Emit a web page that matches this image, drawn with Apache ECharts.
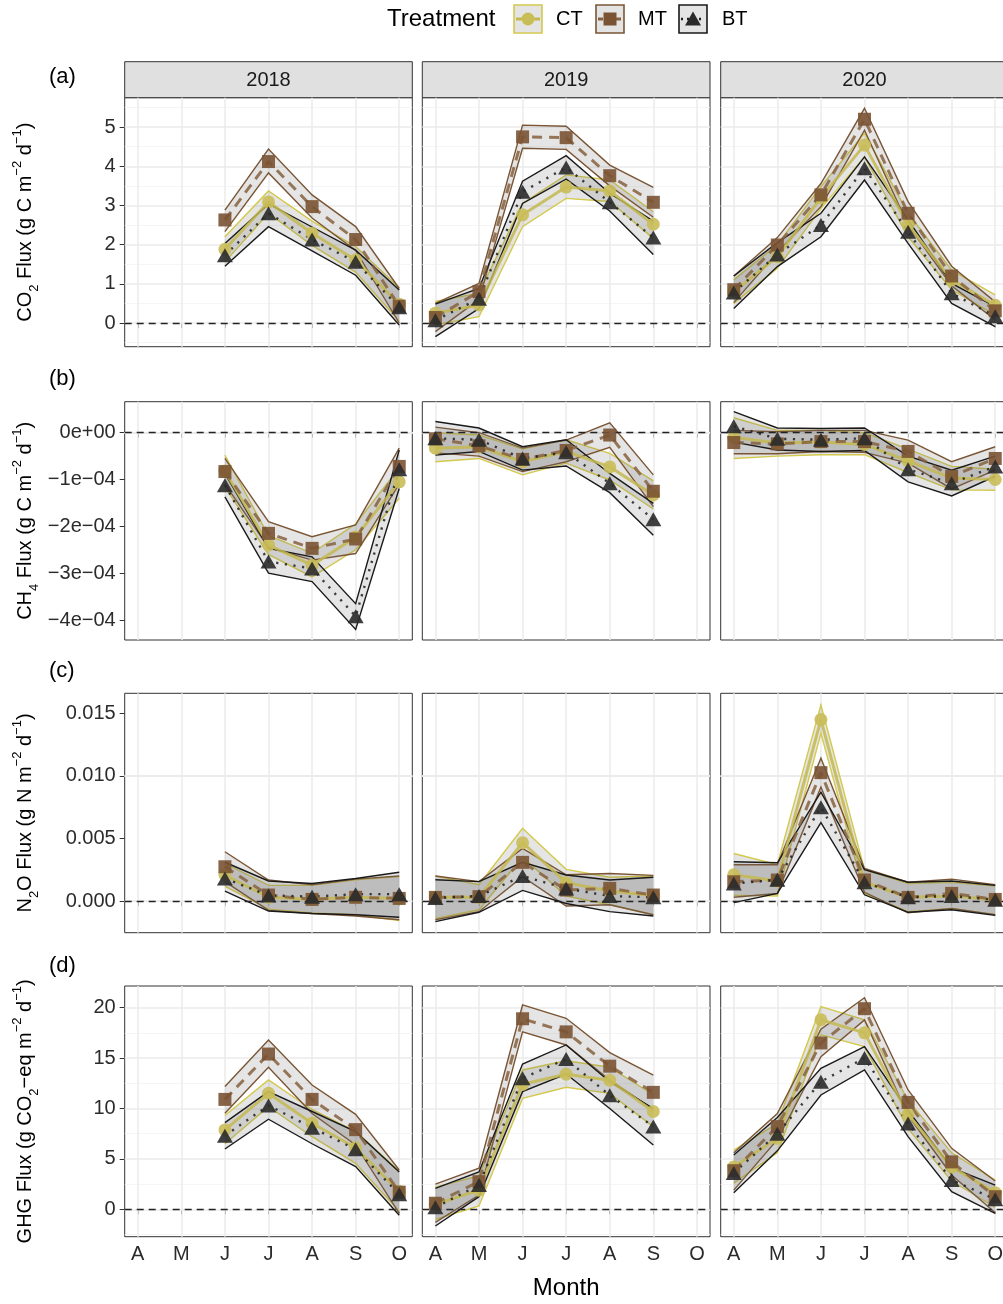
<!DOCTYPE html>
<html><head><meta charset="utf-8">
<script src="https://cdn.jsdelivr.net/npm/echarts@6/dist/echarts.min.js"></script>
<style>html,body{margin:0;padding:0;background:#fff}#c{width:1003px;height:1304px}</style>
</head><body><div id="c"></div>
<script>
// ---------- categories / ticks ----------
const months = ['A','M','J','J','A','S','O'];
const monthNums = [1,2,3,4,5,6,7];
const years = ['2018','2019','2020'];
const treatments = ['CT','MT','BT'];
const panelTags = ['(a)','(b)','(c)','(d)'];

const co2_ticks = [0,1,2,3,4,5];
const co2_tick_labels = ['0','1','2','3','4','5'];
const co2_minor = [-0.5,0.5,1.5,2.5,3.5,4.5,5.5];
const ch4_ticks = [-4e-4,-3e-4,-2e-4,-1e-4,0];
const ch4_tick_labels = ['\u22124e\u221204','\u22123e\u221204','\u22122e\u221204','\u22121e\u221204','0e+00'];
const ch4_minor = [-3.5e-4,-2.5e-4,-1.5e-4,-0.5e-4,0.5e-4];
const n2o_ticks = [0,0.005,0.010,0.015];
const n2o_tick_labels = ['0.000','0.005','0.010','0.015'];
const n2o_minor = [-0.0025,0.0025,0.0075,0.0125];
const ghg_ticks = [0,5,10,15,20];
const ghg_tick_labels = ['0','5','10','15','20'];
const ghg_minor = [-2.5,2.5,7.5,12.5,17.5];

// ---------- CO2 (rows = 2018, 2019, 2020; cols = A..O) ----------
const co2_CT_mean = [[null,null,1.88,3.09,2.29,1.61,0.48],[0.25,0.46,2.76,3.47,3.37,2.52,null],[0.80,1.69,3.20,4.54,2.50,1.10,0.45]];
const co2_CT_lo   = [[null,null,1.56,2.80,1.98,1.30,0.05],[-0.05,0.16,2.46,3.18,3.10,2.16,null],[0.50,1.40,2.92,4.24,2.20,0.85,0.20]];
const co2_CT_hi   = [[null,null,2.20,3.37,2.60,1.95,0.90],[0.55,0.76,3.05,3.78,3.65,2.84,null],[1.10,2.00,3.48,4.84,2.80,1.35,0.72]];
const co2_MT_mean = [[null,null,2.63,4.12,2.97,2.13,0.43],[0.14,0.80,4.75,4.73,3.76,3.08,null],[0.85,1.99,3.27,5.20,2.80,1.20,0.31]];
const co2_MT_lo   = [[null,null,2.33,3.83,2.68,1.85,0.00],[-0.22,0.60,4.46,4.43,3.50,2.70,null],[0.52,1.80,2.97,4.92,2.50,0.95,0.08]];
const co2_MT_hi   = [[null,null,2.88,4.44,3.27,2.46,0.88],[0.50,1.01,5.05,5.02,4.03,3.46,null],[1.20,2.18,3.56,5.48,3.10,1.45,0.54]];
const co2_BT_mean = [[null,null,1.73,2.80,2.13,1.56,0.40],[0.07,0.62,3.35,3.97,3.08,2.18,null],[0.78,1.75,2.50,3.95,2.33,0.76,0.17]];
const co2_BT_lo   = [[null,null,1.45,2.46,1.84,1.22,-0.05],[-0.35,0.37,3.05,3.67,2.86,1.75,null],[0.37,1.44,2.20,3.65,2.03,0.50,-0.09]];
const co2_BT_hi   = [[null,null,2.03,3.04,2.45,1.86,0.84],[0.48,0.88,3.62,4.27,3.31,2.60,null],[1.20,2.05,2.80,4.24,2.63,1.01,0.42]];

// ---------- CH4 ----------
const ch4_CT_mean = [[null,null,-0.82e-4,-2.40e-4,-2.83e-4,-2.23e-4,-1.05e-4],[-0.33e-4,-0.30e-4,-0.62e-4,-0.40e-4,-0.73e-4,-1.33e-4,null],[-0.10e-4,-0.22e-4,-0.20e-4,-0.25e-4,-0.60e-4,-0.97e-4,-1.00e-4]];
const ch4_CT_lo   = [[null,null,-1.15e-4,-2.60e-4,-3.08e-4,-2.50e-4,-1.40e-4],[-0.62e-4,-0.55e-4,-0.90e-4,-0.65e-4,-1.01e-4,-1.63e-4,null],[-0.55e-4,-0.50e-4,-0.47e-4,-0.47e-4,-0.85e-4,-1.22e-4,-1.23e-4]];
const ch4_CT_hi   = [[null,null,-0.48e-4,-2.20e-4,-2.57e-4,-1.95e-4,-0.75e-4],[0.00e-4,-0.05e-4,-0.35e-4,-0.15e-4,-0.44e-4,-1.03e-4,null],[0.32e-4,0.05e-4,0.05e-4,0.00e-4,-0.35e-4,-0.72e-4,-0.78e-4]];
const ch4_MT_mean = [[null,null,-0.83e-4,-2.15e-4,-2.47e-4,-2.27e-4,-0.72e-4],[-0.13e-4,-0.28e-4,-0.57e-4,-0.38e-4,-0.05e-4,-1.25e-4,null],[-0.21e-4,-0.24e-4,-0.19e-4,-0.19e-4,-0.40e-4,-0.93e-4,-0.55e-4]];
const ch4_MT_lo   = [[null,null,-1.10e-4,-2.45e-4,-2.72e-4,-2.58e-4,-1.10e-4],[-0.43e-4,-0.50e-4,-0.83e-4,-0.62e-4,-0.31e-4,-1.58e-4,null],[-0.45e-4,-0.45e-4,-0.40e-4,-0.42e-4,-0.65e-4,-1.20e-4,-0.80e-4]];
const ch4_MT_hi   = [[null,null,-0.55e-4,-1.90e-4,-2.22e-4,-1.97e-4,-0.33e-4],[0.12e-4,0.00e-4,-0.33e-4,-0.16e-4,0.21e-4,-0.90e-4,null],[0.05e-4,0.02e-4,0.05e-4,0.05e-4,-0.16e-4,-0.62e-4,-0.30e-4]];
const ch4_BT_mean = [[null,null,-1.12e-4,-2.75e-4,-2.90e-4,-3.92e-4,-0.78e-4],[-0.12e-4,-0.15e-4,-0.55e-4,-0.42e-4,-1.08e-4,-1.85e-4,null],[0.14e-4,-0.13e-4,-0.15e-4,-0.12e-4,-0.78e-4,-1.08e-4,-0.72e-4]];
const ch4_BT_lo   = [[null,null,-1.37e-4,-3.00e-4,-3.18e-4,-4.20e-4,-1.19e-4],[-0.48e-4,-0.40e-4,-0.80e-4,-0.71e-4,-1.28e-4,-2.19e-4,null],[-0.20e-4,-0.37e-4,-0.40e-4,-0.38e-4,-1.05e-4,-1.35e-4,-0.93e-4]];
const ch4_BT_hi   = [[null,null,-0.87e-4,-2.47e-4,-2.65e-4,-3.65e-4,-0.37e-4],[0.24e-4,0.10e-4,-0.30e-4,-0.15e-4,-0.87e-4,-1.51e-4,null],[0.45e-4,0.10e-4,0.09e-4,0.10e-4,-0.50e-4,-0.80e-4,-0.50e-4]];

// ---------- N2O ----------
const n2o_CT_mean = [[null,null,2.08e-3,0.30e-3,0.15e-3,0.30e-3,0.20e-3],[0.30e-3,0.30e-3,4.66e-3,1.47e-3,0.80e-3,0.45e-3,null],[2.10e-3,1.60e-3,14.50e-3,1.50e-3,0.30e-3,0.40e-3,0.10e-3]];
const n2o_CT_lo   = [[null,null,1.20e-3,-0.65e-3,-0.95e-3,-1.10e-3,-1.55e-3],[-1.40e-3,-0.70e-3,3.50e-3,0.40e-3,-0.30e-3,-1.10e-3,null],[0.45e-3,0.40e-3,13.40e-3,0.60e-3,-0.85e-3,-0.60e-3,-1.10e-3]];
const n2o_CT_hi   = [[null,null,3.00e-3,1.25e-3,1.25e-3,1.70e-3,1.95e-3],[2.00e-3,1.30e-3,5.81e-3,2.53e-3,1.90e-3,2.00e-3,null],[3.80e-3,2.90e-3,15.67e-3,2.50e-3,1.40e-3,1.50e-3,1.20e-3]];
const n2o_MT_mean = [[null,null,2.74e-3,0.48e-3,0.13e-3,0.30e-3,0.21e-3],[0.29e-3,0.35e-3,3.09e-3,0.88e-3,1.01e-3,0.48e-3,null],[1.54e-3,1.68e-3,10.26e-3,1.68e-3,0.29e-3,0.61e-3,0.13e-3]];
const n2o_MT_lo   = [[null,null,1.55e-3,-0.75e-3,-1.00e-3,-1.20e-3,-1.50e-3],[-1.50e-3,-0.85e-3,1.95e-3,-0.40e-3,-0.30e-3,-1.10e-3,null],[0.30e-3,0.60e-3,9.10e-3,0.70e-3,-0.93e-3,-0.59e-3,-1.10e-3]];
const n2o_MT_hi   = [[null,null,3.94e-3,1.68e-3,1.30e-3,1.75e-3,2.00e-3],[2.00e-3,1.55e-3,4.21e-3,2.10e-3,2.20e-3,2.05e-3,null],[2.90e-3,2.90e-3,11.41e-3,2.60e-3,1.50e-3,1.75e-3,1.30e-3]];
const n2o_BT_mean = [[null,null,1.80e-3,0.45e-3,0.35e-3,0.55e-3,0.55e-3],[0.25e-3,0.40e-3,2.00e-3,1.00e-3,0.40e-3,0.30e-3,null],[1.40e-3,1.70e-3,7.50e-3,1.50e-3,0.30e-3,0.40e-3,0.10e-3]];
const n2o_BT_lo   = [[null,null,0.80e-3,-0.80e-3,-1.00e-3,-1.10e-3,-1.30e-3],[-1.65e-3,-0.90e-3,0.85e-3,-0.20e-3,-0.85e-3,-1.20e-3,null],[-0.13e-3,0.61e-3,6.26e-3,0.50e-3,-0.90e-3,-0.70e-3,-1.15e-3]];
const n2o_BT_hi   = [[null,null,3.10e-3,1.60e-3,1.40e-3,1.80e-3,2.30e-3],[1.70e-3,1.55e-3,3.10e-3,2.08e-3,1.68e-3,1.90e-3,null],[3.14e-3,3.06e-3,8.70e-3,2.50e-3,1.50e-3,1.60e-3,1.25e-3]];

// ---------- GHG ----------
const ghg_CT_mean = [[null,null,7.87,11.50,8.53,6.10,1.76],[0.50,1.90,12.40,13.40,12.80,9.70,null],[4.20,7.04,18.80,17.50,9.40,4.20,1.65]];
const ghg_CT_lo   = [[null,null,6.50,10.18,7.20,4.56,-0.20],[-1.00,0.33,11.00,12.10,11.50,8.20,null],[2.60,5.60,17.30,16.13,8.00,2.80,0.20]];
const ghg_CT_hi   = [[null,null,9.30,12.83,9.90,7.70,3.80],[2.20,3.30,13.82,14.74,14.09,11.34,null],[5.88,8.50,20.10,18.80,10.80,5.60,2.90]];
const ghg_MT_mean = [[null,null,10.90,15.40,10.90,7.90,1.70],[0.60,2.74,18.90,17.60,14.20,11.60,null],[3.83,8.20,16.50,19.90,10.60,4.70,1.25]];
const ghg_MT_lo   = [[null,null,9.52,14.09,9.50,6.38,-0.40],[-1.30,1.40,17.60,16.30,12.83,9.90,null],[1.90,6.90,15.14,18.78,9.30,3.40,-0.35]];
const ghg_MT_hi   = [[null,null,12.17,16.80,12.33,9.42,3.90],[2.50,4.07,20.27,18.95,15.54,13.30,null],[5.60,9.50,17.86,20.99,11.84,6.05,2.80]];
const ghg_BT_mean = [[null,null,7.30,10.30,8.10,5.95,1.50],[0.20,2.40,13.00,14.90,11.30,8.20,null],[3.60,7.50,12.66,15.00,8.50,2.90,1.00]];
const ghg_BT_lo   = [[null,null,5.98,8.93,6.50,4.23,-0.60],[-1.66,1.25,11.67,13.42,10.00,6.38,null],[1.65,5.80,11.34,13.82,7.20,1.75,-0.40]];
const ghg_BT_hi   = [[null,null,8.60,11.67,9.70,7.70,3.70],[2.08,3.70,14.41,16.30,12.66,10.00,null],[5.39,9.10,13.99,16.13,9.80,4.10,2.40]];

// ---------- layout / style ----------
const FONT = '"Liberation Sans", Arial, Helvetica, sans-serif';
const colLeft = [124.7, 422.3, 720.7];
const colWidth = [287.6, 287.7, 287.6];
const rowTop = [97.7, 401.7, 693.3, 986];
const rowHeight = [249, 238.3, 239.4, 250.7];
const tagY = [77, 379, 671, 966];

const lineColors = ['#c4b850', '#87623f', '#1e1e1e'];
const ribbonColors = ['#d3c94c', '#7a5535', '#1a1a1a'];
const pointColors = ['#c9bd58', '#7a5333', '#2a2a2a'];
const lineTypes = ['solid', [10, 7], [2.2, 6.5]];
const lineWidths = [3, 3, 2.4];
const symbols = ['circle', 'rect', 'triangle'];
const symbolSizes = [13, 13, [16, 14]];
const RIBBON_FILL = 'rgba(110,110,110,0.18)';

const rich = {
  n: {fontSize: 20, fontFamily: FONT, color: '#000', lineHeight: 30},
  sub: {fontSize: 13, fontFamily: FONT, color: '#000', lineHeight: 16, verticalAlign: 'bottom'},
  sup: {fontSize: 13, fontFamily: FONT, color: '#000', lineHeight: 14, verticalAlign: 'top'}
};

const vars = [
  {mean:[co2_CT_mean,co2_MT_mean,co2_BT_mean], lo:[co2_CT_lo,co2_MT_lo,co2_BT_lo], hi:[co2_CT_hi,co2_MT_hi,co2_BT_hi],
   min:-0.605, max:5.75, ticks:co2_ticks, labels:co2_tick_labels, minor:co2_minor,
   title:'{n|CO}{sub|2}{n| Flux (g C m}{sup|\u22122}{n| d}{sup|\u22121}{n|)}'},
  {mean:[ch4_CT_mean,ch4_MT_mean,ch4_BT_mean], lo:[ch4_CT_lo,ch4_MT_lo,ch4_BT_lo], hi:[ch4_CT_hi,ch4_MT_hi,ch4_BT_hi],
   min:-4.427e-4, max:0.662e-4, ticks:ch4_ticks, labels:ch4_tick_labels, minor:ch4_minor,
   title:'{n|CH}{sub|4}{n| Flux (g C m}{sup|\u22122}{n| d}{sup|\u22121}{n|)}'},
  {mean:[n2o_CT_mean,n2o_MT_mean,n2o_BT_mean], lo:[n2o_CT_lo,n2o_MT_lo,n2o_BT_lo], hi:[n2o_CT_hi,n2o_MT_hi,n2o_BT_hi],
   min:-2.53e-3, max:16.6e-3, ticks:n2o_ticks, labels:n2o_tick_labels, minor:n2o_minor,
   title:'{n|N}{sub|2}{n|O Flux (g N m}{sup|\u22122}{n| d}{sup|\u22121}{n|)}'},
  {mean:[ghg_CT_mean,ghg_MT_mean,ghg_BT_mean], lo:[ghg_CT_lo,ghg_MT_lo,ghg_BT_lo], hi:[ghg_CT_hi,ghg_MT_hi,ghg_BT_hi],
   min:-2.72, max:22.15, ticks:ghg_ticks, labels:ghg_tick_labels, minor:ghg_minor,
   title:'{n|GHG Flux (g CO}{sub|2}{n|\u2212eq m}{sup|\u22122}{n| d}{sup|\u22121}{n|)}'}
];

function pairs(arr) {
  const out = [];
  monthNums.forEach((m, i) => { if (arr[i] != null) out.push([m, arr[i]]); });
  return out;
}
function band(lo, hi) {
  const out = [];
  monthNums.forEach((m, i) => { if (lo[i] != null) out.push([m, lo[i], hi[i]]); });
  return out;
}
function ribbon(g, pts, color) {
  return {
    type: 'custom', xAxisIndex: g, yAxisIndex: g, z: 2, silent: true, clip: false,
    data: pts, encode: {x: 0, y: [1, 2]},
    renderItem: function (params, api) {
      if (params.dataIndex !== 0) return null;
      const up = pts.map(p => api.coord([p[0], p[2]]));
      const dn = pts.map(p => api.coord([p[0], p[1]]));
      return {type: 'group', children: [
        {type: 'polygon', shape: {points: up.concat(dn.slice().reverse())}, style: {fill: RIBBON_FILL}},
        {type: 'polyline', shape: {points: up}, style: {stroke: color, lineWidth: 1.4, fill: null}},
        {type: 'polyline', shape: {points: dn}, style: {stroke: color, lineWidth: 1.4, fill: null}}
      ]};
    }
  };
}

const grids = [], xAxes = [], yAxes = [], series = [];
vars.forEach((v, r) => {
  years.forEach((yr, c) => {
    const g = r * 3 + c;
    grids.push({left: colLeft[c], top: rowTop[r], width: colWidth[c], height: rowHeight[r],
      show: true, borderColor: '#333', borderWidth: 1, backgroundColor: 'rgba(0,0,0,0)',
      containLabel: false, outerBoundsMode: 'none'});
    xAxes.push({type: 'value', gridIndex: g, min: 0.7, max: 7.3,
      axisLine: {show: false}, splitLine: {show: false},
      axisTick: {show: true, length: 5, customValues: monthNums, lineStyle: {color: '#333', width: 1}},
      axisLabel: {show: r === 3, customValues: monthNums, margin: 8,
        formatter: (val) => months[Math.round(val) - 1] || '',
        fontSize: 20, fontFamily: FONT, color: '#2b2b2b'},
      name: (r === 3 && c === 1) ? 'Month' : '', nameLocation: 'middle', nameGap: 40,
      nameTextStyle: {fontSize: 24, fontFamily: FONT, color: '#000'}});
    yAxes.push({type: 'value', gridIndex: g, min: v.min, max: v.max,
      axisLine: {show: false}, splitLine: {show: false},
      axisTick: {show: c === 0, length: 5, customValues: v.ticks, lineStyle: {color: '#333', width: 1}},
      axisLabel: {show: c === 0, customValues: v.ticks, margin: 9,
        formatter: (val) => {
          for (let i = 0; i < v.ticks.length; i++) if (Math.abs(v.ticks[i] - val) < 1e-9) return v.labels[i];
          return '';
        },
        fontSize: 20, fontFamily: FONT, color: '#2b2b2b'},
      name: c === 0 ? v.title : '', nameLocation: 'middle', nameGap: 84, nameRotate: 90,
      nameTextStyle: {rich: rich}});

    treatments.forEach((t, k) => {
      const s = ribbon(g, band(v.lo[k][c], v.hi[k][c]), ribbonColors[k]);
      if (k === 0) {
        s.markLine = {silent: true, z: 1, symbol: ['none', 'none'], animation: false, label: {show: false},
          emphasis: {disabled: true},
          data: [].concat(
            v.minor.map(y => ({yAxis: y, lineStyle: {color: '#f2f2f2', width: 0.8, type: 'solid'}})),
            v.ticks.map(y => ({yAxis: y, lineStyle: {color: '#ebebeb', width: 1.5, type: 'solid'}})),
            monthNums.map(x => ({xAxis: x, lineStyle: {color: '#ebebeb', width: 1.5, type: 'solid'}}))
          )};
      }
      series.push(s);
    });
    treatments.forEach((t, k) => {
      const s = {type: 'line', xAxisIndex: g, yAxisIndex: g, z: 4, silent: true,
        data: pairs(v.mean[k][c]), showSymbol: false, symbol: 'none', animation: false,
        lineStyle: {color: lineColors[k], width: lineWidths[k], type: lineTypes[k], opacity: 0.85}};
      if (k === 0) {
        s.markLine = {silent: true, z: 3, symbol: ['none', 'none'], animation: false, label: {show: false},
          emphasis: {disabled: true},
          data: [{yAxis: 0, lineStyle: {color: '#222', width: 1.3, type: [7, 5]}}]};
      }
      series.push(s);
    });
    treatments.forEach((t, k) => {
      series.push({type: 'scatter', xAxisIndex: g, yAxisIndex: g, z: 5, silent: true,
        data: pairs(v.mean[k][c]), symbol: symbols[k], symbolSize: symbolSizes[k], animation: false,
        itemStyle: {color: pointColors[k], opacity: 0.9}});
    });
  });
});

const graphic = [];
years.forEach((yr, c) => {
  graphic.push({type: 'rect', shape: {x: colLeft[c], y: 61.7, width: colWidth[c], height: 36},
    style: {fill: '#e0e0e0', stroke: '#333', lineWidth: 1}, silent: true});
  graphic.push({type: 'text', x: colLeft[c] + colWidth[c] / 2, y: 80,
    style: {text: yr, fontSize: 20, fontFamily: FONT, fill: '#1a1a1a', align: 'center', verticalAlign: 'middle'}, silent: true});
});
panelTags.forEach((tg, r) => {
  graphic.push({type: 'text', x: 49, y: tagY[r],
    style: {text: tg, fontSize: 22, fontFamily: FONT, fill: '#000', align: 'left', verticalAlign: 'middle'}, silent: true});
});
graphic.push({type: 'text', x: 387, y: 19,
  style: {text: 'Treatment', fontSize: 24, fontFamily: FONT, fill: '#000', align: 'left', verticalAlign: 'middle'}, silent: true});
const keyX = [514, 596, 679];
const keyTextX = [556, 638, 722];
treatments.forEach((t, k) => {
  const x0 = keyX[k], y0 = 5, s = 28, cx = x0 + s / 2, cy = y0 + s / 2;
  graphic.push({type: 'rect', shape: {x: x0, y: y0, width: s, height: s},
    style: {fill: '#e4e4e4', stroke: ribbonColors[k], lineWidth: 1.6}, silent: true});
  graphic.push({type: 'line', shape: {x1: x0 + 2, y1: cy, x2: x0 + s - 2, y2: cy},
    style: {stroke: lineColors[k], lineWidth: lineWidths[k], lineDash: k === 0 ? null : (k === 1 ? [5, 4] : [2, 4])}, silent: true});
  let mk;
  if (k === 0) mk = {type: 'circle', shape: {cx: cx, cy: cy, r: 6.5}};
  else if (k === 1) mk = {type: 'rect', shape: {x: cx - 6.5, y: cy - 6.5, width: 13, height: 13}};
  else mk = {type: 'polygon', shape: {points: [[cx, cy - 7.5], [cx - 8, cy + 6.5], [cx + 8, cy + 6.5]]}};
  mk.style = {fill: pointColors[k]};
  mk.silent = true;
  graphic.push(mk);
  graphic.push({type: 'text', x: keyTextX[k], y: 19,
    style: {text: t, fontSize: 20, fontFamily: FONT, fill: '#000', align: 'left', verticalAlign: 'middle'}, silent: true});
});

const chart = echarts.init(document.getElementById('c'), null, {renderer: 'canvas'});
chart.setOption({
  animation: false,
  backgroundColor: '#fff',
  textStyle: {fontFamily: FONT},
  grid: grids, xAxis: xAxes, yAxis: yAxes, series: series,
  graphic: graphic
});
</script>
</body></html>
